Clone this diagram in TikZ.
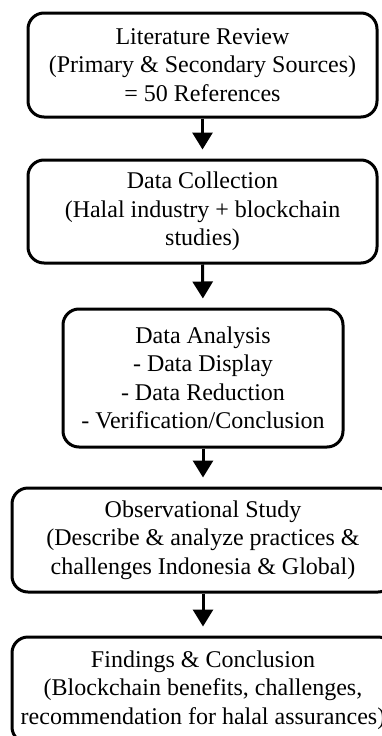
\documentclass[tikz,border=0pt]{standalone}
\usepackage{fontspec}
\setmainfont{Liberation Serif}
\usetikzlibrary{arrows.meta}
\begin{document}
\begin{tikzpicture}[x=1pt,y=-1pt,
  stepbox/.style={draw, line width=3pt, rounded corners=16pt, inner sep=0pt,
    align=center, font=\fontsize{24}{28.5}\selectfont},
  flow/.style={-{Triangle[length=17pt,width=20pt]}, line width=3pt, shorten >=9pt}]
\useasboundingbox (0,0) rectangle (382,736);
\clip (0,0) rectangle (382,736);
\node[stepbox, minimum width=349pt, minimum height=104pt] (lit) at (202.5,65)
  {Literature Review\\(Primary \& Secondary Sources)\\= 50 References};
\node[stepbox, minimum width=349pt, minimum height=103pt] (col) at (202.5,211.5)
  {Data Collection\\(Halal industry + blockchain\\studies)};
\node[stepbox, minimum width=280pt, minimum height=138pt] (ana) at (203,378)
  {Data Analysis\\- Data Display\\- Data Reduction\\- Verification/Conclusion};
\node[stepbox, minimum width=382pt, minimum height=104pt] (obs) at (203,540)
  {Observational Study\\(Describe \& analyze practices \&\\challenges Indonesia \& Global)};
\node[stepbox, minimum width=382pt, minimum height=106pt] (fin) at (203,690)
  {Findings \& Conclusion\\(Blockchain benefits, challenges,\\recommendation for halal assurances)};
\draw[flow] (lit.south) -- (col.north);
\draw[flow] (col.south) -- (ana.north);
\draw[flow] (ana.south) -- (obs.north);
\draw[flow] (obs.south) -- (fin.north);
\end{tikzpicture}
\end{document}
